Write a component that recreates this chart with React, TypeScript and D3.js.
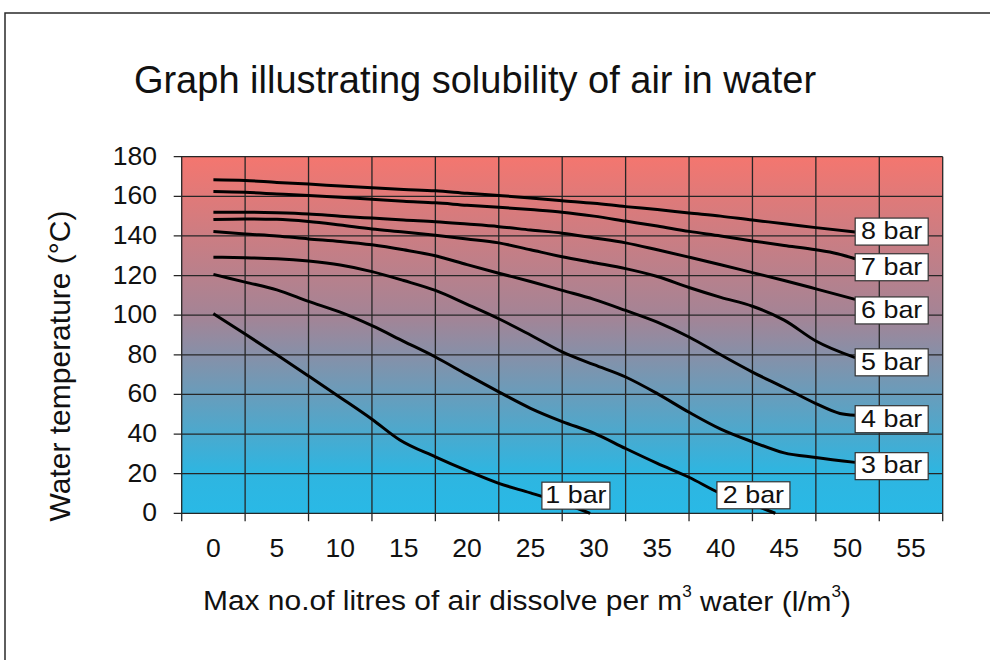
import React from "react";
import * as d3 from "d3";

// ---- data (x = litres of air per m3, y = water temperature °C) ----
const xTickLabels = [0, 5, 10, 15, 20, 25, 30, 35, 40, 45, 50, 55];
const yTickLabels = [0, 20, 40, 60, 80, 100, 120, 140, 160, 180];

const bar1: [number, number][] = [[0,100.8],[2.5,90.5],[5,80],[7.5,69.3],[10,58.5],[12.5,47.5],[14.7,37],[17.5,28.5],[20,21.5],[22.5,15.1],[25,10.3],[27.5,5.2],[29.7,0]];
const bar2: [number, number][] = [[0,120.6],[2.5,116.7],[5,112.8],[7.5,107],[10,101.5],[12.5,94.7],[15,86.8],[17.5,78.9],[20,70],[22.5,61.3],[25,53],[27.5,46.3],[30,40.5],[32.5,32.7],[35,25.2],[37.5,18.2],[40,10],[42.5,4.5],[44.3,0]];
const bar3: [number, number][] = [[0,129.3],[2.5,129],[5,128.5],[7.5,127.3],[10,125.3],[12.5,122],[15,117.5],[17.5,112.5],[20,105.5],[22.5,98.2],[25,90],[27.5,81.5],[30,75],[32.5,68.8],[35,60.4],[37.5,51],[40,42.5],[42.5,36.1],[45,30.5],[47.5,28.2],[50.6,25.7]];
const bar4: [number, number][] = [[0,142.2],[2.5,141],[5,140],[7.5,138.5],[10,137.2],[12.5,135.5],[15,133],[17.5,130],[20,125.5],[22.5,121.2],[25,117],[27.5,112.5],[30,108],[32.5,102.4],[35,96.5],[37.5,89],[40,80],[42.5,71.3],[45,63.5],[47.5,55.4],[49.4,50.4],[50.6,49.5]];
const bar5: [number, number][] = [[0,148.3],[2.5,148.6],[5,148.4],[7.5,147.3],[10,145.5],[12.5,143.5],[15,142],[17.5,140.3],[20,138.5],[22.5,136.5],[25,133],[27.5,129.5],[30,126.5],[32.5,123.5],[35,119.5],[37.5,114],[40,109],[42.5,104.5],[45,97.5],[47.5,87],[50.6,78.6]];
const bar6: [number, number][] = [[0,152],[2.5,152],[5,151.7],[7.5,151.1],[10,150],[12.5,149],[15,148],[17.5,147.2],[20,146],[22.5,144.7],[25,143],[27.5,141.4],[30,139],[32.5,136.5],[35,133],[37.5,129.3],[40,125.5],[42.5,121.5],[45,117.5],[47.5,113.3],[50.6,108]];
const bar7: [number, number][] = [[0,162.4],[2.5,162],[5,161.2],[7.5,160.4],[10,159.5],[12.5,158.5],[15,157.5],[17.5,156.7],[20,155.5],[22.5,154.5],[25,153.3],[27.5,152],[30,150],[32.5,147.5],[35,145],[37.5,142.3],[40,140],[42.5,137.5],[45,135.2],[47.5,133],[49.2,131],[50.6,128.5]];
const bar8: [number, number][] = [[0,168.4],[2.5,168],[5,167],[7.5,166.2],[10,165.2],[12.5,164.3],[15,163.5],[17.5,162.8],[20,161.5],[22.5,160.4],[25,159.2],[27.5,157.8],[30,156.5],[32.5,154.8],[35,153.3],[37.5,151.6],[40,150],[42.5,148],[45,146.2],[47.5,144.2],[50.6,142]];

const seriesList = [bar1, bar2, bar3, bar4, bar5, bar6, bar7, bar8];

// label text with anchor (x value of box left, temperature of box centre)
const labelNames = ["1 bar", "2 bar", "3 bar", "4 bar", "5 bar", "6 bar", "7 bar", "8 bar"];
const labelX = [25.9, 39.7, 50.6, 50.6, 50.6, 50.6, 50.6, 50.6];
const labelT = [8.9, 9.1, 23.8, 47.5, 76.2, 102.4, 124.2, 142.2];

const W = 990, H = 660;
const plot = { left: 181.7, right: 942.7, top: 156.7, bottom: 513.3 };
const FONT = "'Liberation Sans', Arial, Helvetica, sans-serif";

export default function App() {
  const x = d3.scaleLinear().domain([-2.5, 57.5]).range([plot.left, plot.right]);
  const y = d3.scaleLinear().domain([0, 180]).range([plot.bottom, plot.top]);
  const line = d3.line<[number, number]>().x(d => x(d[0])).y(d => y(d[1])).curve(d3.curveMonotoneX);
  const vGrid = d3.range(-2.5, 57.6, 5);

  return (
    <svg width={W} height={H} style={{ position: "absolute", left: 0, top: 0, background: "#fff" }} fontFamily={FONT}>
      <defs>
        <linearGradient id="bg" x1="0" y1="0" x2="0" y2="1">
          <stop offset="0%" stopColor="#f4766f" />
          <stop offset="45%" stopColor="#a38496" />
          <stop offset="88%" stopColor="#2fb5e0" />
          <stop offset="100%" stopColor="#29b9e6" />
        </linearGradient>
      </defs>
      {/* outer frame */}
      <rect x={5} y={13} width={1000} height={700} fill="#fff" stroke="#2a2a2a" strokeWidth={1.5} />
      <text x={475} y={83} fontSize={38} textAnchor="middle" dominantBaseline="middle" fill="#111">
        Graph illustrating solubility of air in water
      </text>
      {/* plot background */}
      <rect x={plot.left} y={plot.top} width={plot.right - plot.left} height={plot.bottom - plot.top} fill="url(#bg)" />
      {/* grid */}
      {yTickLabels.map(t => (
        <line key={"h" + t} x1={plot.left - 8} x2={plot.right} y1={y(t)} y2={y(t)} stroke="#262626" strokeWidth={1.3} />
      ))}
      {vGrid.map(v => (
        <line key={"v" + v} x1={x(v)} x2={x(v)} y1={plot.top} y2={plot.bottom + 8} stroke="#262626" strokeWidth={1.3} />
      ))}
      {/* curves */}
      {seriesList.map((s, i) => (
        <path key={"s" + i} d={line(s) || ""} fill="none" stroke="#000" strokeWidth={3} strokeLinejoin="round" />
      ))}
      {/* labels */}
      {labelNames.map((n, i) => {
        const bx = x(labelX[i]);
        const by = y(labelT[i]);
        const bw = i === 0 ? 68 : 73;
        return (
          <g key={"l" + i}>
            <rect x={bx} y={by - 13.5} width={bw} height={27} fill="#fff" stroke="#333" strokeWidth={1.2} />
            <g transform={`translate(${bx + bw / 2},${by + 1}) scale(1.12,1)`}>
              <text x={0} y={0} fontSize={24} textAnchor="middle" dominantBaseline="middle" fill="#111">{n}</text>
            </g>
          </g>
        );
      })}
      {/* y tick labels */}
      {yTickLabels.map(t => (
        <text key={"yt" + t} x={157} y={y(t) + 1} fontSize={26.5} textAnchor="end" dominantBaseline="middle" fill="#111">{t}</text>
      ))}
      {/* x tick labels */}
      {xTickLabels.map(v => (
        <text key={"xt" + v} x={x(v)} y={550} fontSize={26.5} textAnchor="middle" dominantBaseline="middle" fill="#111">{v}</text>
      ))}
      <text transform="translate(62,366) rotate(-90)" fontSize={30} textAnchor="middle" dominantBaseline="middle" fill="#111">
        Water temperature (°C)
      </text>
      <g transform="translate(527,603) scale(1.07,1)">
        <text x={0} y={0} fontSize={28} textAnchor="middle" dominantBaseline="middle" fill="#111">
          Max no.of litres of air dissolve per m<tspan fontSize={16} dy={-10}>3</tspan><tspan dy={10}> water (l/m</tspan><tspan fontSize={16} dy={-10}>3</tspan><tspan dy={10}>)</tspan>
        </text>
      </g>
    </svg>
  );
}
